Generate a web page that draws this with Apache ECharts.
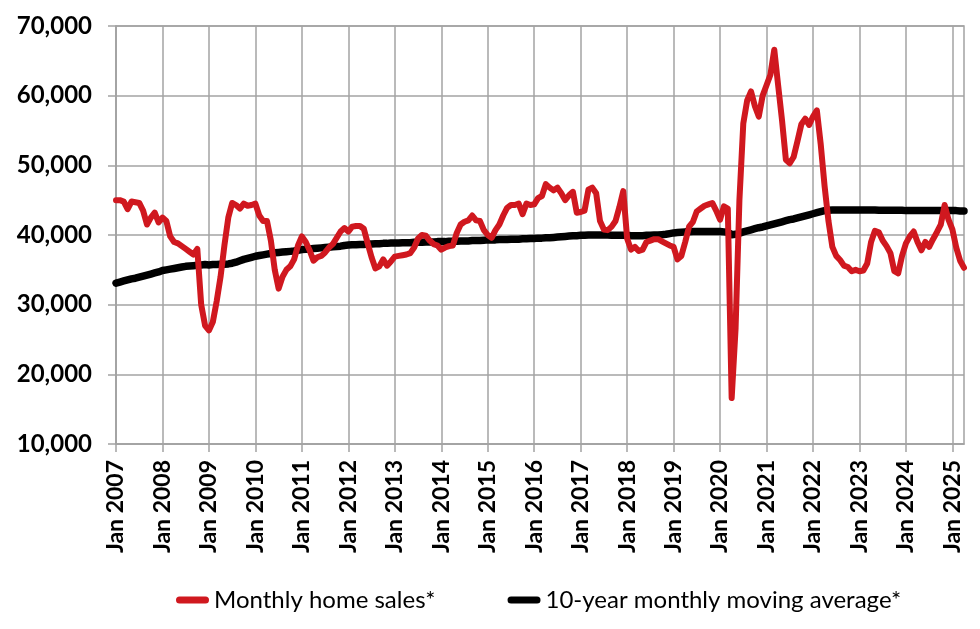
<!DOCTYPE html>
<html>
<head>
<meta charset="utf-8">
<script src="https://cdn.jsdelivr.net/npm/echarts@6/dist/echarts.min.js"></script>
<style>
  html, body { margin: 0; padding: 0; background: #fff; }
  #chart { width: 980px; height: 629px; }
</style>
</head>
<body>
<div id="chart"></div>
<script>
// Monthly home sales vs 10-year monthly moving average, Jan 2007 - Apr 2025
var monthNames = ['Jan', 'Feb', 'Mar', 'Apr', 'May', 'Jun', 'Jul', 'Aug', 'Sep', 'Oct', 'Nov', 'Dec'];
var firstYear = 2007;
var yTicks = [10000, 20000, 30000, 40000, 50000, 60000, 70000];

var monthlySales = [
  45000, 45000, 44800, 43700, 44800, 44700, 44600, 43500, 41500, 42500, 43200, 41800, // 2007
  42500, 42000, 39800, 39000, 38800, 38400, 38000, 37600, 37200, 38000, 30000, 27000, // 2008
  26300, 27500, 30500, 34000, 38500, 42500, 44600, 44300, 43800, 44500, 44200, 44300, // 2009
  44500, 42800, 42000, 42000, 39200, 35000, 32300, 34000, 35000, 35500, 36500, 38500, // 2010
  39800, 39000, 37800, 36300, 36800, 37000, 37500, 38200, 38700, 39600, 40500, 41000, // 2011
  40500, 41200, 41300, 41300, 40900, 38800, 36800, 35200, 35500, 36500, 35600, 36200, // 2012
  36900, 37000, 37100, 37200, 37400, 38200, 39500, 40000, 39900, 39200, 38700, 38500, // 2013
  37900, 38200, 38400, 38500, 40300, 41500, 41900, 42100, 42800, 42100, 42000, 40700, // 2014
  40000, 39600, 40700, 41500, 42800, 43900, 44300, 44300, 44500, 43000, 44500, 44300, // 2015
  44400, 45300, 45600, 47300, 46800, 46400, 46800, 46000, 45000, 45700, 46200, 43200, // 2016
  43300, 43500, 46500, 46800, 46000, 42000, 40800, 40700, 41200, 42000, 44000, 46300, // 2017
  39500, 37900, 38300, 37700, 37900, 39000, 39200, 39400, 39400, 39100, 38800, 38500, // 2018
  38300, 36500, 37000, 39000, 41200, 41900, 43400, 43800, 44200, 44400, 44600, 43500, // 2019
  42200, 44100, 43800, 16600, 26500, 45000, 56000, 59300, 60600, 58500, 57000, 60000, // 2020
  61500, 63000, 66600, 61500, 56500, 50800, 50300, 51200, 53500, 55900, 56700, 55800, // 2021
  57000, 57900, 53000, 47000, 42000, 38300, 37000, 36400, 35600, 35400, 34800, 35000, // 2022
  34800, 34900, 35900, 39000, 40600, 40400, 39200, 38400, 37400, 34800, 34500, 37000, // 2023
  38800, 39800, 40500, 39000, 37800, 39000, 38300, 39400, 40400, 41500, 44300, 42200, // 2024
  40800, 38200, 36300, 35300                                                          // 2025
];

var movingAvg = [
  33100, 33250, 33400, 33550, 33700, 33800, 33950, 34100, 34250, 34400, 34550, 34700, // 2007
  34900, 35000, 35100, 35200, 35300, 35400, 35500, 35550, 35600, 35650, 35700, 35750, // 2008
  35700, 35750, 35750, 35800, 35800, 35850, 35950, 36100, 36300, 36500, 36650, 36800, // 2009
  36950, 37050, 37150, 37250, 37350, 37450, 37500, 37550, 37600, 37650, 37700, 37800, // 2010
  37900, 37950, 38000, 38050, 38100, 38150, 38200, 38250, 38300, 38350, 38400, 38500, // 2011
  38550, 38600, 38600, 38650, 38650, 38700, 38700, 38750, 38750, 38800, 38800, 38850, // 2012
  38850, 38850, 38900, 38900, 38900, 38950, 38950, 38950, 39000, 39000, 39000, 39050, // 2013
  39050, 39050, 39100, 39100, 39100, 39150, 39150, 39150, 39200, 39200, 39200, 39250, // 2014
  39300, 39300, 39300, 39350, 39350, 39350, 39400, 39400, 39400, 39450, 39450, 39500, // 2015
  39500, 39550, 39550, 39600, 39600, 39650, 39700, 39750, 39800, 39850, 39900, 39900, // 2016
  39950, 39950, 40000, 40000, 40000, 40000, 40000, 40000, 39950, 39950, 39950, 39950, // 2017
  39950, 39900, 39900, 39900, 39900, 39950, 39950, 40000, 40000, 40050, 40100, 40200, // 2018
  40300, 40350, 40400, 40450, 40450, 40500, 40500, 40500, 40500, 40500, 40500, 40500, // 2019
  40500, 40450, 40400, 40050, 40100, 40250, 40450, 40600, 40750, 40900, 41050, 41150, // 2020
  41300, 41450, 41600, 41750, 41900, 42050, 42200, 42300, 42450, 42600, 42750, 42900, // 2021
  43050, 43200, 43350, 43500, 43550, 43600, 43600, 43600, 43600, 43600, 43600, 43600, // 2022
  43600, 43600, 43600, 43600, 43600, 43550, 43550, 43550, 43550, 43550, 43550, 43550, // 2023
  43500, 43500, 43500, 43500, 43500, 43500, 43500, 43500, 43500, 43500, 43500, 43500, // 2024
  43500, 43500, 43450, 43450                                                          // 2025
];

var categories = [];
for (var i = 0; i < monthlySales.length; i++) {
  categories.push(monthNames[i % 12] + ' ' + (firstYear + Math.floor(i / 12)));
}

var gridColor = '#A3A3A3';
var fontFamily = 'Lato, "Open Sans", sans-serif';
function isJan(idx) { return idx % 12 === 0; }

var chart = echarts.init(document.getElementById('chart'), null, { renderer: 'canvas' });
chart.setOption({
  animation: false,
  backgroundColor: '#fff',
  grid: {
    left: 116, right: 16, top: 26, bottom: 185,
    show: true, borderColor: gridColor, borderWidth: 1.5
  },
  legend: {
    data: ['Monthly home sales*', '10-year monthly moving average*'],
    left: 171, top: 583,
    itemWidth: 33, itemHeight: 7, itemGap: 72,
    icon: 'path://M3.5,0 L29.5,0 A3.5,3.5 0 0 1 29.5,7 L3.5,7 A3.5,3.5 0 0 1 3.5,0 Z',
    textStyle: { fontFamily: fontFamily, fontSize: 24, color: '#000' }
  },
  xAxis: {
    type: 'category',
    data: categories,
    boundaryGap: false,
    axisLine: { lineStyle: { color: gridColor, width: 1.5 } },
    axisTick: { show: true, length: 8, interval: isJan, lineStyle: { color: gridColor, width: 1.5 } },
    splitLine: { show: true, interval: isJan, lineStyle: { color: gridColor, width: 1.5 } },
    axisLabel: {
      interval: isJan, rotate: 90, margin: 16,
      fontFamily: fontFamily, fontSize: 23, fontWeight: 'bold', color: '#000'
    }
  },
  yAxis: {
    type: 'value',
    min: yTicks[0], max: yTicks[yTicks.length - 1], interval: 10000,
    axisLine: { show: true, lineStyle: { color: gridColor, width: 1.5 } },
    axisTick: { show: true, length: 8, lineStyle: { color: gridColor, width: 1.5 } },
    splitLine: { show: true, lineStyle: { color: gridColor, width: 1.5 } },
    axisLabel: {
      margin: 24,
      fontFamily: fontFamily, fontSize: 24, fontWeight: 'bold', color: '#000',
      formatter: function(v) { return v.toLocaleString('en-US'); }
    }
  },
  series: [
    {
      name: 'Monthly home sales*',
      type: 'line',
      data: monthlySales,
      showSymbol: false,
      z: 3,
      itemStyle: { color: '#D0181F' },
      lineStyle: { color: '#D0181F', width: 6, cap: 'round', join: 'round' }
    },
    {
      name: '10-year monthly moving average*',
      type: 'line',
      data: movingAvg,
      showSymbol: false,
      z: 2,
      itemStyle: { color: '#000' },
      lineStyle: { color: '#000', width: 7.5, cap: 'round', join: 'round' }
    }
  ]
});
</script>
</body>
</html>
